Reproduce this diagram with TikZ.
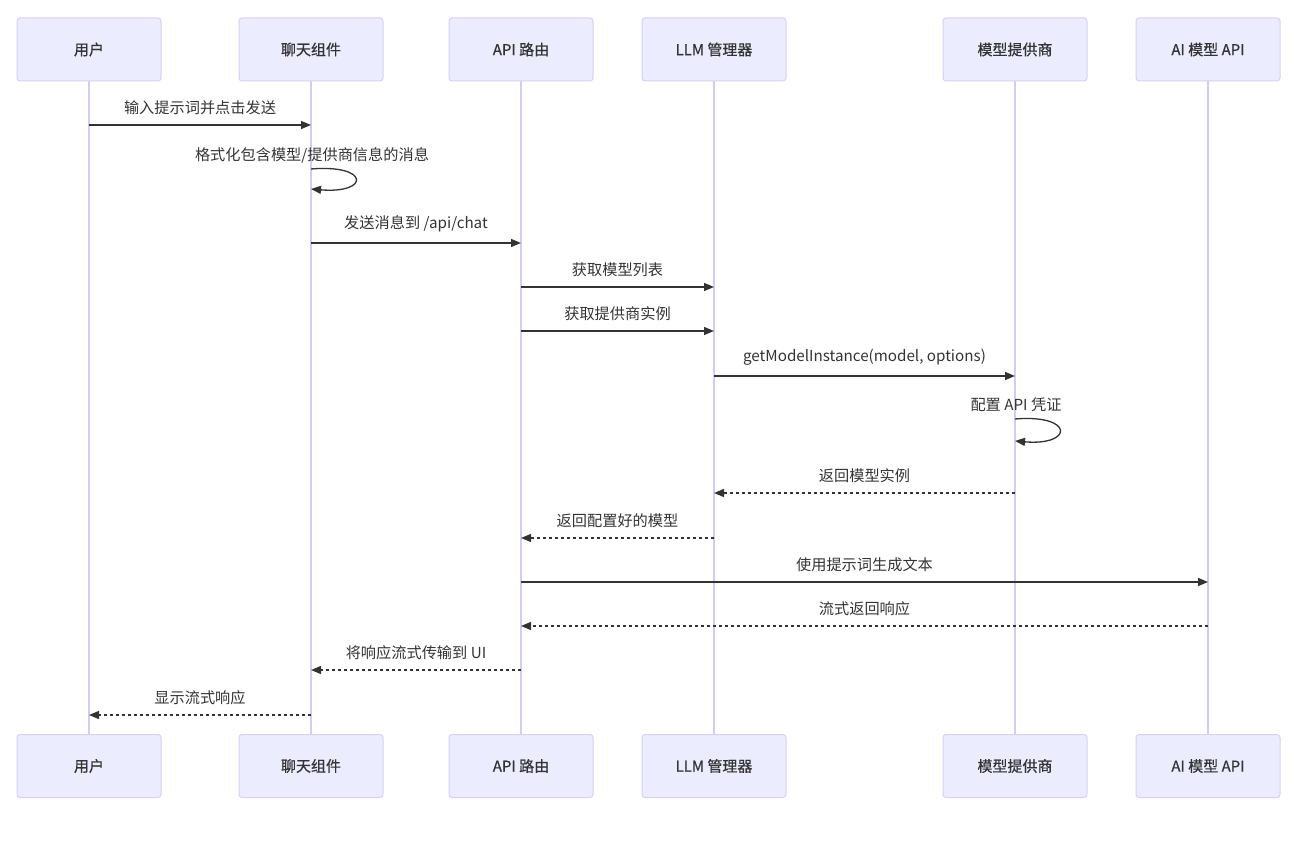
\documentclass[tikz,border=0pt]{standalone}
\usepackage{fontspec}
\setmainfont{Noto Sans CJK SC}
\newfontfamily\boxfont[FakeBold=0.6]{Noto Sans CJK SC}
\usetikzlibrary{arrows.meta}
\definecolor{boxfill}{HTML}{ECECFF}
\definecolor{boxline}{HTML}{D6D0F2}
\definecolor{lifeline}{HTML}{D3CBF4}
\definecolor{ink}{HTML}{333333}
\tikzset{
  actor/.style={draw=boxline, fill=boxfill, line width=1pt, rounded corners=3pt,
    minimum width=144pt, minimum height=63pt, inner sep=0pt, text=ink,
    font=\boxfont\fontsize{15}{17}\selectfont},
  life/.style={draw=lifeline, line width=1.5pt},
  msg/.style={draw=ink, line width=1.3pt, -{Triangle[length=10pt,width=8pt]}},
  reply/.style={msg, dash pattern=on 3pt off 3pt},
  lbl/.style={text=ink, font=\fontsize{15.2}{17}\selectfont, inner sep=0pt},
}
\begin{document}
\begin{tikzpicture}[x=1pt,y=-1pt]
\useasboundingbox (0,0) rectangle (1310,842);
% actors
\foreach \n/\x/\t in {u/89/用户, c/311/聊天组件, a/521/API 路由, l/714/LLM 管理器, p/1015/模型提供商, m/1208/AI 模型 API}{
  \node[actor] (\n top) at (\x,49.5) {\t};
  \node[actor] (\n bot) at (\x,766) {\t};
  \draw[life] (\n top.south) -- (\n bot.north);
}
% message endpoints
\coordinate (m1a) at (89,125);   \coordinate (m1b) at (311,125);
\coordinate (m2a) at (311,169);  \coordinate (m2b) at (311,189);
\coordinate (m3a) at (311,243);  \coordinate (m3b) at (521,243);
\coordinate (m4a) at (521,287);  \coordinate (m4b) at (714,287);
\coordinate (m5a) at (521,331);  \coordinate (m5b) at (714,331);
\coordinate (m6a) at (714,376);  \coordinate (m6b) at (1015,376);
\coordinate (m7a) at (1015,419); \coordinate (m7b) at (1015,441);
\coordinate (m8a) at (1015,493); \coordinate (m8b) at (714,493);
\coordinate (m9a) at (714,538);  \coordinate (m9b) at (521,538);
\coordinate (m10a) at (521,582); \coordinate (m10b) at (1208,582);
\coordinate (m11a) at (1208,626);\coordinate (m11b) at (521,626);
\coordinate (m12a) at (521,670); \coordinate (m12b) at (311,670);
\coordinate (m13a) at (311,715); \coordinate (m13b) at (89,715);
% messages
\draw[msg] (m1a) -- node[lbl, above=10pt] {输入提示词并点击发送} (m1b);
\node[lbl] at (312,155) {格式化包含模型/提供商信息的消息};
\draw[msg] (m2a) .. controls (370,164) and (370,194) .. (m2b);
\draw[msg] (m3a) -- node[lbl, above=10pt] {发送消息到 /api/chat} (m3b);
\draw[msg] (m4a) -- node[lbl, above=10pt] {获取模型列表} (m4b);
\draw[msg] (m5a) -- node[lbl, above=10pt] {获取提供商实例} (m5b);
\draw[msg] (m6a) -- node[lbl, above=10pt] {getModelInstance(model, options)} (m6b);
\node[lbl] at (1016,405) {配置 API 凭证};
\draw[msg] (m7a) .. controls (1074,414) and (1074,446) .. (m7b);
\draw[reply] (m8a) -- node[lbl, above=10pt] {返回模型实例} (m8b);
\draw[reply] (m9a) -- node[lbl, above=10pt] {返回配置好的模型} (m9b);
\draw[msg] (m10a) -- node[lbl, above=10pt] {使用提示词生成文本} (m10b);
\draw[reply] (m11a) -- node[lbl, above=10pt] {流式返回响应} (m11b);
\draw[reply] (m12a) -- node[lbl, above=10pt] {将响应流式传输到 UI} (m12b);
\draw[reply] (m13a) -- node[lbl, above=10pt] {显示流式响应} (m13b);
\end{tikzpicture}
\end{document}
